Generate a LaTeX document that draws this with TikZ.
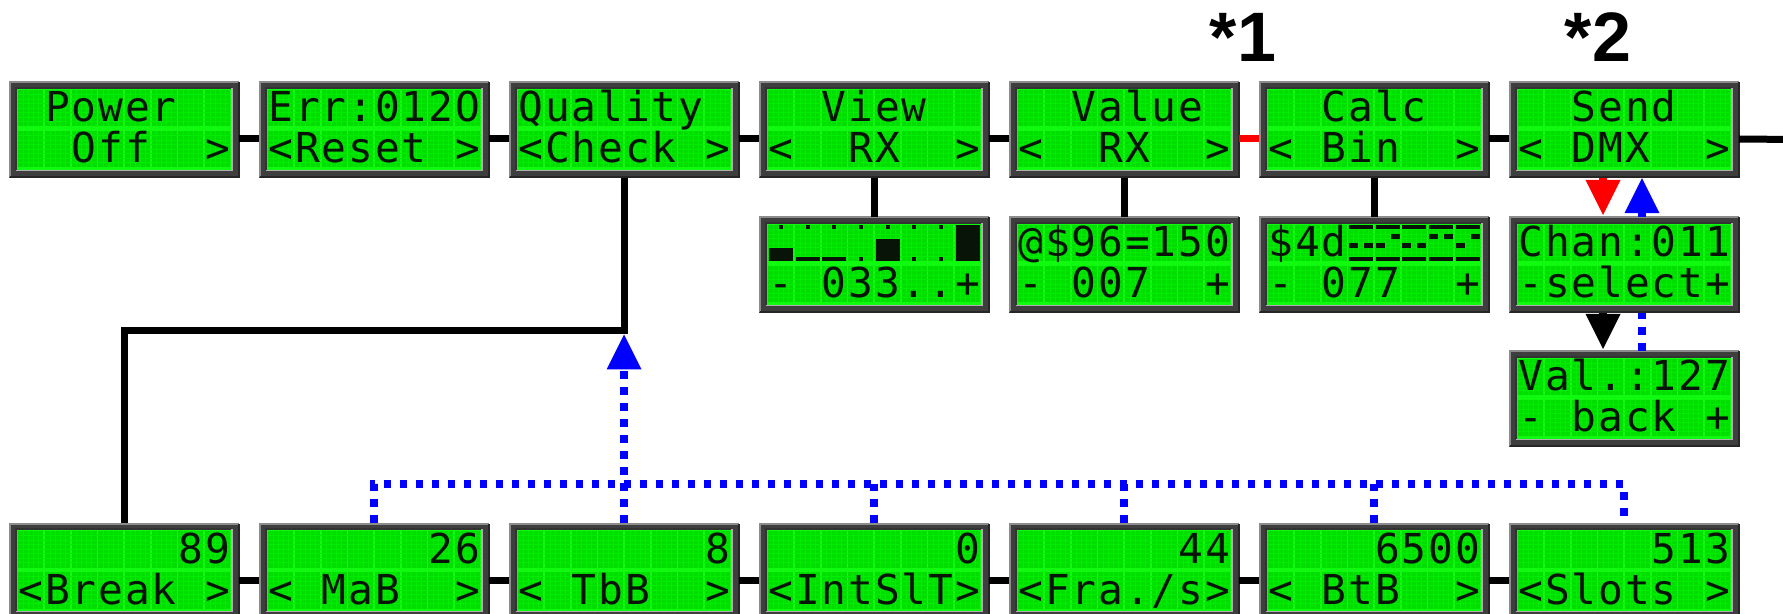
\documentclass[tikz,border=0pt]{standalone}
\usepackage{fontspec}
\usetikzlibrary{arrows.meta,calc}
\newfontfamily\lcdfont{DejaVu Sans Mono}
\newfontfamily\labfont{Liberation Sans}
\definecolor{lcdbg}{RGB}{16,250,16}
\definecolor{lcdcell}{RGB}{0,222,0}
\definecolor{lcdgrid}{RGB}{0,236,0}
\definecolor{frm}{RGB}{62,62,62}
\definecolor{frmlight}{RGB}{140,140,140}
\definecolor{frminner}{RGB}{175,175,175}
\definecolor{lcdink}{RGB}{8,20,8}
\definecolor{dotblue}{RGB}{0,0,255}
\definecolor{linered}{RGB}{255,0,0}
\tikzset{
  lcdnode/.style={rectangle, inner sep=0pt, outer sep=0pt, minimum width=115pt, minimum height=47.8pt},
  lcdchar/.style={inner sep=0pt, anchor=base, text=lcdink, font={\lcdfont\fontsize{20.6pt}{20.6pt}\selectfont}},
  conn/.style={line width=3.5pt, black},
  redconn/.style={line width=3.5pt, linered},
  bluedot/.style={line width=4pt, dotblue, dash pattern=on 3.8pt off 4.2pt},
  bigtip/.style={-{Triangle[width=17.5pt,length=17.5pt,line width=0pt]}},
  lab/.style={inner sep=0pt, anchor=base, font={\labfont\bfseries\fontsize{35pt}{35pt}\selectfont}}
}
% #1 name, #2 left x, #3 top y, #4 row 1 chars, #5 row 2 chars
\newcommand\lcd[5]{%
  \begin{scope}[shift={(#2,#3)}]
    \fill[frm] (0,0) rectangle (230,95.6);
    \draw[line width=1pt, frmlight] (0.5,95.1) -- (0.5,0.5) -- (229.5,0.5);
    \draw[line width=1pt, black!85] (0.5,95.1) -- (229.5,95.1) -- (229.5,0.5);
    \draw[line width=0.75pt, black!80] (6.9,88.3) -- (6.9,5.9) -- (222.8,5.9);
    \draw[line width=0.75pt, frminner] (6.9,88.3) -- (222.8,88.3) -- (222.8,5.9);
    \fill[lcdbg] (7.7,6.6) rectangle (222,87.6);
    \foreach \ty in {8,49} {
      \foreach \k in {0,...,7}
        \fill[lcdcell] ({9.4+26.66*\k},\ty) rectangle ++(25,36.5);
      \foreach \r in {1,...,7}
        \draw[lcdgrid, line width=0.35pt] (9.4,\ty+0.25+4.5*\r) -- (222,\ty+0.25+4.5*\r);
      \foreach \k in {0,...,7}
        \foreach \c in {1,...,4}
          \draw[lcdgrid, line width=0.35pt] ({9.4+26.66*\k+5*\c},\ty) -- ++(0,36.5);
    }
  \end{scope}
  \node[lcdnode] (#1) at (#2+115,#3+47.8) {};
  \foreach \ch [count=\i from 0] in {#4}
    \node[lcdchar] at ({#2+21.9+26.66*\i},#3+40) {\ch};
  \foreach \ch [count=\i from 0] in {#5}
    \node[lcdchar] at ({#2+21.9+26.66*\i},#3+81) {\ch};
}
% custom glyph dots, first text row: #1 box x, #2 box y, #3 cell, #4 c0, #5 r0, #6 c1, #7 r1
\newcommand\lcdpx[7]{%
  \fill[lcdink] ({#1+9.4+26.66*#3+5*#4+0.5},{#2+8.5+4.5*#5}) rectangle ({#1+9.4+26.66*#3+5*#6+4.5},{#2+8.5+4.5*#7+4});
}
\begin{document}
\begin{tikzpicture}[x=0.5pt,y=-0.5pt]
\useasboundingbox (0,0) rectangle (1783,614);
\clip (0,0) rectangle (1783,614);

% top row
\lcd{pwr}{9}{82}{{},P,o,w,e,r,{},{}}{{},{},O,f,f,{},{},>}
\lcd{err}{259}{82}{E,r,r,:,0,1,2,O}{<,R,e,s,e,t,{},>}
\lcd{qual}{509}{82}{Q,u,a,l,i,t,y,{}}{<,C,h,e,c,k,{},>}
\lcd{view}{759}{82}{{},{},V,i,e,w,{},{}}{<,{},{},R,X,{},{},>}
\lcd{valu}{1009}{82}{{},{},V,a,l,u,e,{}}{<,{},{},R,X,{},{},>}
\lcd{calc}{1259}{82}{{},{},C,a,l,c,{},{}}{<,{},B,i,n,{},{},>}
\lcd{send}{1509}{82}{{},{},S,e,n,d,{},{}}{<,{},D,M,X,{},{},>}

% sub boxes
\lcd{vsub}{759}{217}{{},{},{},{},{},{},{},{}}{-,{},0,3,3,.,.,+}
\lcd{valsub}{1009}{217}{@,\$,9,6,=,1,5,0}{-,{},0,0,7,{},{},+}
\lcd{csub}{1259}{217}{\$,4,d,{},{},{},{},{}}{-,{},0,7,7,{},{},+}
\lcd{chan}{1509}{217}{C,h,a,n,:,0,1,1}{-,s,e,l,e,c,t,+}
\lcd{vall}{1509}{351}{V,a,l,.,:,1,2,7}{-,{},b,a,c,k,{},+}

% bar-graph glyphs (View sub)
\foreach \k in {0,...,6} {\lcdpx{759}{217}{\k}{2}{0}{2}{0}}
\lcdpx{759}{217}{0}{0}{5}{4}{7}
\lcdpx{759}{217}{1}{0}{7}{4}{7}
\lcdpx{759}{217}{2}{0}{7}{4}{7}
\lcdpx{759}{217}{3}{2}{7}{2}{7}
\lcdpx{759}{217}{4}{0}{3}{4}{7}
\lcdpx{759}{217}{5}{2}{7}{2}{7}
\lcdpx{759}{217}{6}{2}{7}{2}{7}
\lcdpx{759}{217}{7}{0}{0}{4}{7}

% bit glyphs (Calc sub)
\foreach \k/\l/\r in {3/4/4, 4/4/2, 5/4/4, 6/2/2, 7/4/2} {
  \lcdpx{1259}{217}{\k}{0}{0}{4}{0}
  \lcdpx{1259}{217}{\k}{0}{7}{4}{7}
  \lcdpx{1259}{217}{\k}{0}{\l}{1}{\l+1}
  \lcdpx{1259}{217}{\k}{3}{\r}{4}{\r+1}
}

% bottom row
\lcd{brk}{9}{523}{{},{},{},{},{},{},8,9}{<,B,r,e,a,k,{},>}
\lcd{mab}{259}{523}{{},{},{},{},{},{},2,6}{<,{},M,a,B,{},{},>}
\lcd{tbb}{509}{523}{{},{},{},{},{},{},{},8}{<,{},T,b,B,{},{},>}
\lcd{ints}{759}{523}{{},{},{},{},{},{},{},0}{<,I,n,t,S,l,T,>}
\lcd{fra}{1009}{523}{{},{},{},{},{},{},4,4}{<,F,r,a,.,/,s,>}
\lcd{btb}{1259}{523}{{},{},{},{},6,5,0,0}{<,{},B,t,B,{},{},>}
\lcd{slots}{1509}{523}{{},{},{},{},{},5,1,3}{<,S,l,o,t,s,{},>}

% labels
\node[lab] (star1) at (1243,62) {*1};
\node[lab] (star2) at (1598,62) {*2};

% horizontal connectors, top row
\foreach \a/\b in {pwr/err, err/qual, qual/view, view/valu, calc/send}
  \draw[conn] ([yshift=-4.6pt]\a.east) -- ([yshift=-4.6pt]\b.west);
\draw[redconn] ([yshift=-4.6pt]valu.east) -- ([yshift=-4.6pt]calc.west);
\coordinate (rend) at (1783,139.4);
\draw[conn] ([yshift=-4.6pt]send.east) -- (rend);

% horizontal connectors, bottom row
\foreach \a/\b in {brk/mab, mab/tbb, tbb/ints, ints/fra, fra/btb, btb/slots}
  \draw[conn] ([yshift=-4.6pt]\a.east) -- ([yshift=-4.6pt]\b.west);

% vertical connectors to sub boxes
\draw[conn] (view.south) -- (vsub.north);
\draw[conn] (valu.south) -- (valsub.north);
\draw[conn] (calc.south) -- (csub.north);

% Quality -> Break
\coordinate (qc) at (624,331);
\draw[conn] (qual.south) -- (qc) -| (brk.north);

% blue dotted return paths
\coordinate (hl) at (374,484.5);
\draw[bluedot, bigtip] (tbb.north) -- ([yshift=-1.75pt]qc);
\draw[bluedot] (mab.north) -- (mab.north |- hl) -- (slots.north |- hl) -- (slots.north);
\foreach \n in {ints, fra, btb}
  \draw[bluedot] (\n.north) -- (\n.north |- hl);

% Send / Chan / Val arrows
\draw[line width=4pt, linered, bigtip, shorten >=1pt] ([xshift=-10.5pt]send.south) -- ([xshift=-10.5pt]chan.north);
\draw[line width=4pt, dotblue, bigtip, shorten >=0.3pt] ([xshift=9pt]chan.north) -- ([xshift=9pt]send.south);
\draw[line width=4pt, black, bigtip, shorten >=1pt] ([xshift=-10.5pt]chan.south) -- ([xshift=-10.5pt]vall.north);
\draw[bluedot] ([xshift=9pt]vall.north) -- ([xshift=9pt]chan.south);
\end{tikzpicture}
\end{document}
